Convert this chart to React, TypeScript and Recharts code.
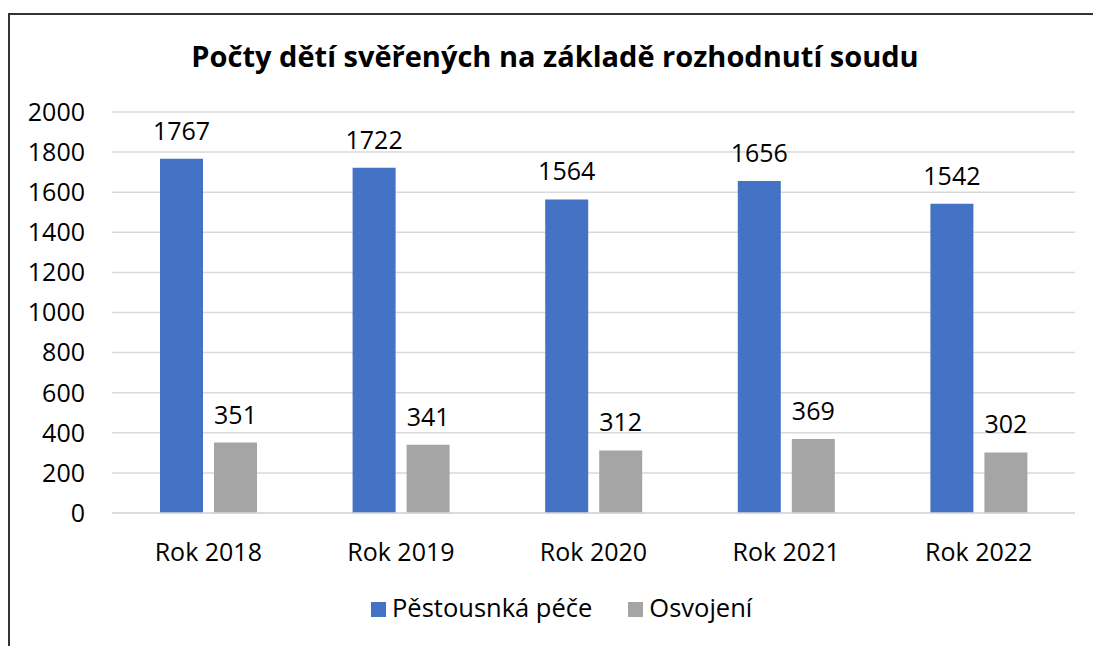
import React from "react";
import { BarChart, Bar, XAxis, YAxis, CartesianGrid, LabelList } from "recharts";

const title = "Počty dětí svěřených na základě rozhodnutí soudu";
const categories = ["Rok 2018", "Rok 2019", "Rok 2020", "Rok 2021", "Rok 2022"];
const pestounskaPece = [1767, 1722, 1564, 1656, 1542];
const osvojeni = [351, 341, 312, 369, 302];
const yTicks = [0, 200, 400, 600, 800, 1000, 1200, 1400, 1600, 1800, 2000];
const seriesNames = ["Pěstousnká péče", "Osvojení"];
const seriesColors = ["#4472C4", "#A5A5A5"];

const data = categories.map((c, i) => ({
  name: c,
  pestoun: pestounskaPece[i],
  osvojeni: osvojeni[i],
}));

const FONT = "'Open Sans', 'Noto Sans', sans-serif";

export default function App() {
  return (
    <div
      style={{
        position: "absolute",
        left: 0,
        top: 0,
        width: 1093,
        height: 646,
        overflow: "hidden",
        fontFamily: FONT,
        background: "#fff",
      }}
    >
      <div
        style={{
          position: "absolute",
          left: 8,
          top: 13,
          width: 2000,
          height: 2000,
          borderLeft: "2px solid #333",
          borderTop: "2px solid #333",
        }}
      />
      <div
        style={{
          position: "absolute",
          left: 8,
          top: 36,
          width: 1094,
          textAlign: "center",
          fontSize: 29,
          fontWeight: 700,
          color: "#000",
          whiteSpace: "nowrap",
        }}
      >
        {title}
      </div>
      <div style={{ position: "absolute", left: 8, top: 8 }}>
        <BarChart
          width={1077}
          height={630}
          data={data}
          margin={{ top: 104, right: 10, left: 0, bottom: 85 }}
          barGap={11}
        >
          <CartesianGrid vertical={false} stroke="#D9D9D9" strokeWidth={1.5} />
          <XAxis
            dataKey="name"
            axisLine={{ stroke: "#D9D9D9", strokeWidth: 1.5 }}
            tickLine={false}
            tickSize={0}
            tickMargin={30}
            height={40}
            tick={{ fill: "#000", fontSize: 25, fontFamily: FONT }}
          />
          <YAxis
            domain={[0, 2000]}
            ticks={yTicks}
            axisLine={false}
            tickLine={false}
            tickSize={0}
            tickMargin={27}
            width={104}
            tick={{ fill: "#000", fontSize: 25, fontFamily: FONT }}
            interval={0}
          />
          <Bar dataKey="pestoun" name={seriesNames[0]} fill={seriesColors[0]} barSize={43} isAnimationActive={false}>
            <LabelList dataKey="pestoun" position="top" offset={19} fill="#000" fontSize={25} fontFamily={FONT} />
          </Bar>
          <Bar dataKey="osvojeni" name={seriesNames[1]} fill={seriesColors[1]} barSize={43} isAnimationActive={false}>
            <LabelList dataKey="osvojeni" position="top" offset={19} fill="#000" fontSize={25} fontFamily={FONT} />
          </Bar>
        </BarChart>
      </div>
      <div
        style={{
          position: "absolute",
          left: 371,
          top: 590,
          display: "flex",
          alignItems: "flex-start",
          fontSize: 25.5,
          color: "#000",
          whiteSpace: "nowrap",
        }}
      >
        {seriesNames.map((n, i) => (
          <div key={n} style={{ display: "flex", alignItems: "flex-start", marginRight: i === 0 ? 36 : 0 }}>
            <div style={{ width: 15, height: 15, background: seriesColors[i], marginTop: 12, marginRight: 6 }} />
            <span>{n}</span>
          </div>
        ))}
      </div>
    </div>
  );
}
